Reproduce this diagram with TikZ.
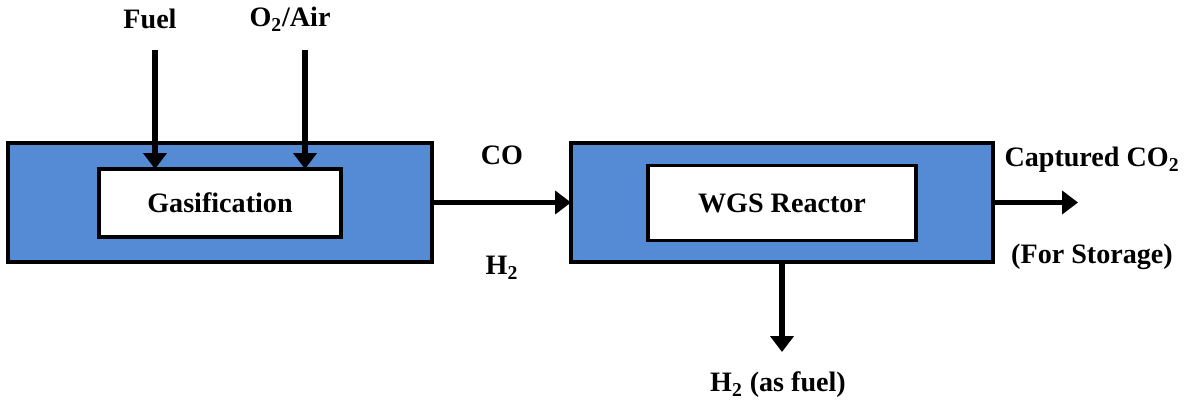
\documentclass[tikz,border=0pt]{standalone}
\usepackage{fontspec}
\setmainfont{Liberation Serif}
\usetikzlibrary{arrows.meta,positioning,calc}
\definecolor{unitblue}{RGB}{85,139,213}

\begin{document}
\begin{tikzpicture}[
    >={Triangle[length=9pt,width=13pt]},
    unit/.style={draw=black, line width=2pt, fill=unitblue, inner sep=0pt, outer sep=0pt},
    stage/.style={draw=black, line width=2pt, fill=white, inner sep=0pt, outer sep=0pt,
      font=\fontsize{16}{19}\selectfont\bfseries},
    flow/.style={->, line width=3.3pt},
    lbl/.style={font=\fontsize{16}{19}\selectfont\bfseries, inner sep=0pt}]
    \useasboundingbox (0,0) rectangle (23.76,-8.14);
    % --- Units (blue) and their stages (white) ---
    \node[unit, minimum width=8.48cm, minimum height=2.38cm] (gasunit) at (4.4,-4.05) {};
    \node[stage, minimum width=4.84cm, minimum height=1.36cm] (gas) at (4.4,-4.06) {Gasification};
    \node[unit, minimum width=8.44cm, minimum height=2.38cm] (wgsunit) at (15.64,-4.05) {};
    \node[stage, minimum width=5.36cm, minimum height=1.5cm] (wgs) at (15.64,-4.06) {WGS Reactor};
    % --- Labels ---
    \node[lbl] (fuel) at (3.0,-0.38) {Fuel};
    \node[lbl] (oxy) at (5.8,-0.38) {O\textsubscript{2}/Air};
    \node[lbl] (co) at (10.04,-3.1) {CO};
    \node[lbl] (htwo) at (10.04,-5.36) {H\textsubscript{2}};
    \node[lbl] (capt) at (21.84,-3.2) {Captured CO\textsubscript{2}};
    \node[lbl] (store) at (21.84,-5.14) {(For Storage)};
    \node[lbl] (hfuel) at (15.56,-7.7) {H\textsubscript{2} (as fuel)};
    % --- Free ends of the streams ---
    \coordinate (fueltop) at (3.1,-1.0);
    \coordinate (oxytop) at (6.1,-1.0);
    \coordinate (captend) at (21.56,-4.05);
    \coordinate (hfuelend) at (15.64,-7.04);
    % --- Streams ---
    \draw[flow] (fueltop) -- (fueltop |- gas.north);
    \draw[flow] (oxytop) -- (oxytop |- gas.north);
    \draw[flow] (gasunit.east) -- (wgsunit.west);
    \draw[flow] (wgsunit.east) -- (captend);
    \draw[flow] (wgsunit.south) -- (hfuelend);
  \end{tikzpicture}
\end{document}
